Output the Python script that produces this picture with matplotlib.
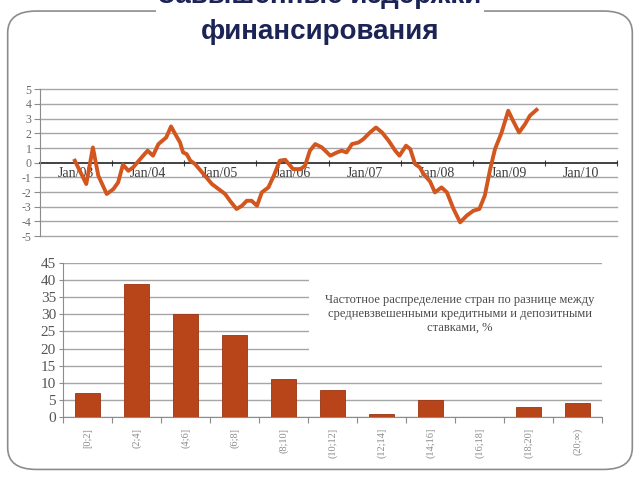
import numpy as np
import matplotlib
matplotlib.use("Agg")
import matplotlib.pyplot as plt
from matplotlib.patches import FancyBboxPatch

plt.rcParams["axes.unicode_minus"] = False

# Top chart: spread series, x = months since Jan 2003
months = [5.8, 7.7, 8.8, 9.7, 11.1, 12.2, 13.0, 13.8, 14.7, 15.5, 16.9, 17.9, 18.8,
          19.7, 21.0, 21.8, 22.5, 23.3, 23.8, 24.4, 25.0, 25.8, 27.2, 28.6, 29.7,
          30.8, 31.6, 32.7, 33.6, 34.4, 35.2, 36.1, 36.9, 38.0, 38.9, 39.9, 40.8,
          42.1, 43.3, 44.1, 44.9, 45.8, 46.9, 48.3, 49.4, 50.2, 51.0, 51.9, 53.0,
          53.8, 54.9, 55.9, 56.9, 58.0, 59.1, 59.8, 60.9, 61.6, 62.4, 63.2, 63.8,
          64.9, 65.7, 66.8, 67.7, 68.8, 69.9, 71.0, 72.1, 73.1, 74.0, 74.9, 75.7,
          76.8, 77.9, 78.7, 79.7, 80.7, 81.5, 82.6]
spread = [0.14, -1.45, 1.04, -0.88, -2.13, -1.8, -1.34, -0.13, -0.55, -0.32, 0.36,
          0.82, 0.48, 1.27, 1.72, 2.47, 1.95, 1.38, 0.7, 0.59, 0.14, -0.09, -0.77,
          -1.45, -1.79, -2.13, -2.59, -3.15, -2.93, -2.59, -2.59, -2.93, -2.02,
          -1.68, -0.88, 0.14, 0.2, -0.43, -0.45, -0.2, 0.82, 1.27, 1.04, 0.48, 0.7,
          0.82, 0.7, 1.27, 1.38, 1.61, 2.06, 2.4, 2.06, 1.5, 0.82, 0.48, 1.16, 0.93,
          -0.09, -0.32, -0.77, -1.28, -2.02, -1.68, -2.02, -3.15, -4.06, -3.6,
          -3.27, -3.15, -2.24, -0.43, 0.93, 2.06, 3.54, 2.86, 2.06, 2.63, 3.2, 3.6]
year_labels = ["Jan/03", "Jan/04", "Jan/05", "Jan/06", "Jan/07", "Jan/08", "Jan/09", "Jan/10"]

# Bottom chart: frequency distribution
bins = ["[0;2]", "(2;4]", "(4;6]", "(6;8]", "(8;10]", "(10;12]", "(12;14]",
        "(14;16]", "(16;18]", "(18;20]", "(20;\u221e)"]
counts = [7, 39, 30, 24, 11, 8, 1, 5, 0, 3, 4]

serif = ["Liberation Serif", "DejaVu Serif"]
line_col = "#D2561E"
bar_col = "#B8441A"

fig = plt.figure(figsize=(6.4, 4.8), dpi=100)

# rounded frame
frame = FancyBboxPatch((0.012, 0.022), 0.976, 0.955, boxstyle="round,pad=0,rounding_size=0.045",
                       transform=fig.transFigure, facecolor="white", edgecolor="#8c8c8c",
                       linewidth=1.2, zorder=-5)
fig.patches.append(frame)

fig.text(0.5, 1.008, "Завышенные издержки", ha="center", va="center",
         fontsize=20, fontweight="bold", color="#1b2455", family="Liberation Sans",
         bbox=dict(facecolor="white", edgecolor="none", pad=2))
fig.text(0.5, 0.933, "финансирования", ha="center", va="center",
         fontsize=20, fontweight="bold", color="#1b2455", family="Liberation Sans")

# ---- top line chart
ax1 = fig.add_axes([0.0625, 0.508, 0.9016, 0.306])
ax1.set_facecolor("none")
ax1.set_xlim(0, 96)
ax1.set_ylim(-5, 5)
ax1.set_yticks(range(-5, 6))
for v in range(-5, 6):
    if v != 0:
        ax1.axhline(v, color="#a6a6a6", lw=1.0, zorder=1, clip_on=False)
ax1.plot(months, spread, color=line_col, lw=2.8, zorder=3, solid_joinstyle="round")

for s in ["top", "right"]:
    ax1.spines[s].set_visible(False)
ax1.spines["left"].set_color("#8c8c8c")
ax1.spines["bottom"].set_position(("data", 0))
ax1.spines["bottom"].set_color("#222222")
ax1.spines["bottom"].set_linewidth(1.2)
ax1.spines["bottom"].set_zorder(2)
ax1.set_xticks(range(0, 97, 12))
ax1.set_xticklabels([])
ax1.tick_params(axis="x", which="major", length=4, direction="inout", color="#444444")
ax1.set_xticks([6 + 12 * i for i in range(len(year_labels))], minor=True)
ax1.set_xticklabels(year_labels, minor=True, fontfamily=serif, fontsize=10, color="#3c3c3c")
ax1.tick_params(axis="x", which="minor", length=0, pad=3)
ax1.tick_params(axis="y", length=4, color="#8c8c8c", pad=2)
for lab in ax1.get_yticklabels():
    lab.set_fontfamily(serif)
    lab.set_fontsize(8.5)
    lab.set_color("#6a6a6a")

# ---- bottom bar chart
ax2 = fig.add_axes([0.0984, 0.1313, 0.842, 0.3208])
ax2.set_facecolor("none")
x = np.arange(len(bins))
ax2.set_xlim(-0.5, len(bins) - 0.5)
ax2.set_ylim(0, 45)
ax2.set_yticks(range(0, 46, 5))
ax2.grid(axis="y", color="#a6a6a6", lw=1.0, zorder=0)
ax2.set_axisbelow(True)
ax2.bar(x, counts, width=0.52, color=bar_col, edgecolor="#9a3412", linewidth=0.6, zorder=3)

for s in ["top", "right"]:
    ax2.spines[s].set_visible(False)
ax2.spines["left"].set_color("#8c8c8c")
ax2.spines["bottom"].set_color("#8c8c8c")
ax2.set_xticks(np.arange(-0.5, len(bins), 1))
ax2.set_xticklabels([])
ax2.tick_params(axis="x", which="major", length=4, color="#8c8c8c")
ax2.set_xticks(x, minor=True)
ax2.set_xticklabels(bins, minor=True, rotation=90, fontfamily=serif, fontsize=7.5, color="#8a8a8a")
ax2.tick_params(axis="x", which="minor", length=0, pad=8)
ax2.tick_params(axis="y", length=3, color="#8c8c8c", pad=2)
for lab in ax2.get_yticklabels():
    lab.set_fontfamily(serif)
    lab.set_fontsize(11)
    lab.set_color("#555555")

ax2.text(0.737, 0.67,
         "Частотное распределение стран по разнице между\nсредневзвешенными кредитными и депозитными\nставками, %",
         transform=ax2.transAxes, ha="center", va="center", fontfamily=serif, fontsize=9,
         color="#4a4a4a", linespacing=1.25, zorder=4,
         bbox=dict(facecolor="white", edgecolor="none", pad=12))

fig.savefig("out.png", dpi=100)
